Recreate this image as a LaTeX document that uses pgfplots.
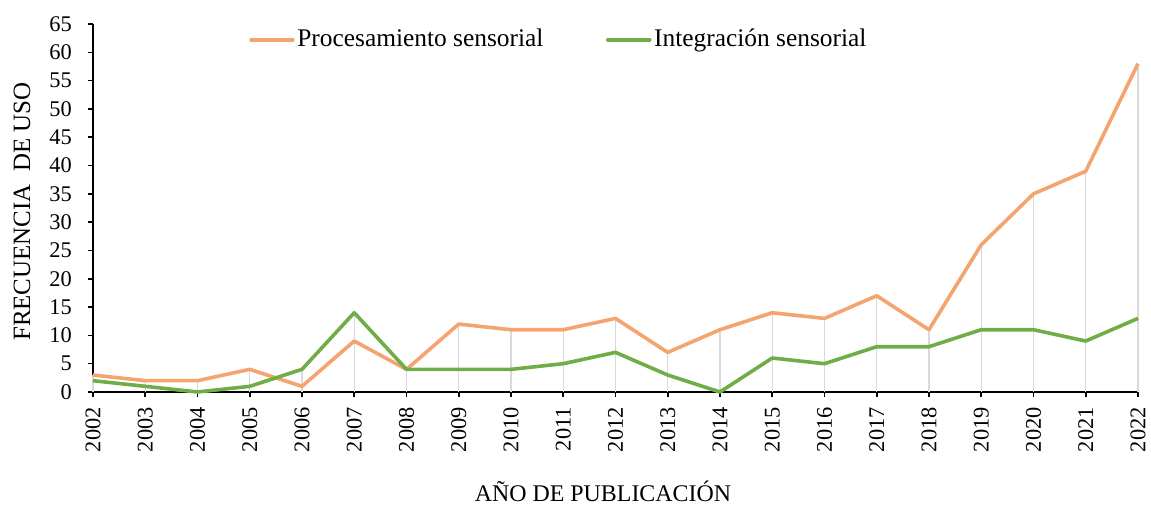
\documentclass[border=0pt]{standalone}
\usepackage{fontspec}
\setmainfont{Liberation Serif}
\usepackage{pgfplots}
\pgfplotsset{compat=1.18}
\usepackage{pgfplotstable}
\definecolor{orangeS}{RGB}{244,164,110}
\definecolor{greenS}{RGB}{112,173,71}
\definecolor{dropG}{RGB}{217,217,217}
\pgfplotstableread{
year proc integ
2002 3 2
2003 2 1
2004 2 0
2005 4 1
2006 1 4
2007 9 14
2008 4 4
2009 12 4
2010 11 4
2011 11 5
2012 13 7
2013 7 3
2014 11 0
2015 14 6
2016 13 5
2017 17 8
2018 11 8
2019 26 11
2020 35 11
2021 39 9
2022 58 13
}\datatab
\begin{document}
\fontsize{24}{28}\selectfont
\begin{tikzpicture}
\useasboundingbox (0,0) rectangle (1151bp,506bp);
\begin{axis}[
  at={(93bp,114bp)}, anchor=south west,
  width=1045bp, height=368bp, scale only axis,
  xmin=2002, xmax=2022, ymin=0, ymax=65,
  xtick={2002,2003,...,2022}, ytick={0,5,...,65},
  axis x line=bottom, axis y line=left,
  axis line style={-, line width=1.6bp, black},
  tick align=outside, major tick length=5bp,
  tick style={line width=1.6bp, black},
  /pgf/number format/assume math mode=true,
  /pgf/number format/1000 sep={},
  ticklabel style={font=\fontsize{22.5}{26}\selectfont},
  xticklabel style={rotate=90, anchor=east, inner ysep=0bp, inner xsep=10bp},
  yticklabel style={inner sep=0bp, xshift=-16bp},
  xlabel={AÑO DE PUBLICACIÓN},
  ylabel={FRECUENCIA\ \ DE USO},
  xlabel style={font=\fontsize{24}{28}\selectfont, inner sep=0bp, at={(axis description cs:0.488,-0.27)}, anchor=center},
  ylabel style={font=\fontsize{25}{28}\selectfont, inner sep=0bp, at={(axis description cs:-0.068,0.49)}, anchor=center},
  clip=false,
  legend columns=2,
  legend style={at={(axis description cs:0.446,0.957)}, anchor=center, draw=none, fill=none,
    font=\fontsize{25.5}{28}\selectfont, column sep=0bp,
    nodes={inner sep=2.5bp},
    /tikz/every even column/.append style={column sep=60bp}},
  legend image code/.code={\draw[#1, line cap=round] (0bp,0bp) -- (42bp,0bp);},
]
\addplot[ycomb, dropG, line width=1.4bp, forget plot] table[x=year, y=proc] {\datatab};
\addplot[ycomb, dropG, line width=1.4bp, forget plot] table[x=year, y=integ] {\datatab};
\addplot[orangeS, line width=3.6bp, line join=round] table[x=year, y=proc] {\datatab};
\addlegendentry{Procesamiento sensorial}
\addplot[greenS, line width=3.6bp, line join=round] table[x=year, y=integ] {\datatab};
\addlegendentry{Integración sensorial}
\end{axis}
\end{tikzpicture}
\end{document}
